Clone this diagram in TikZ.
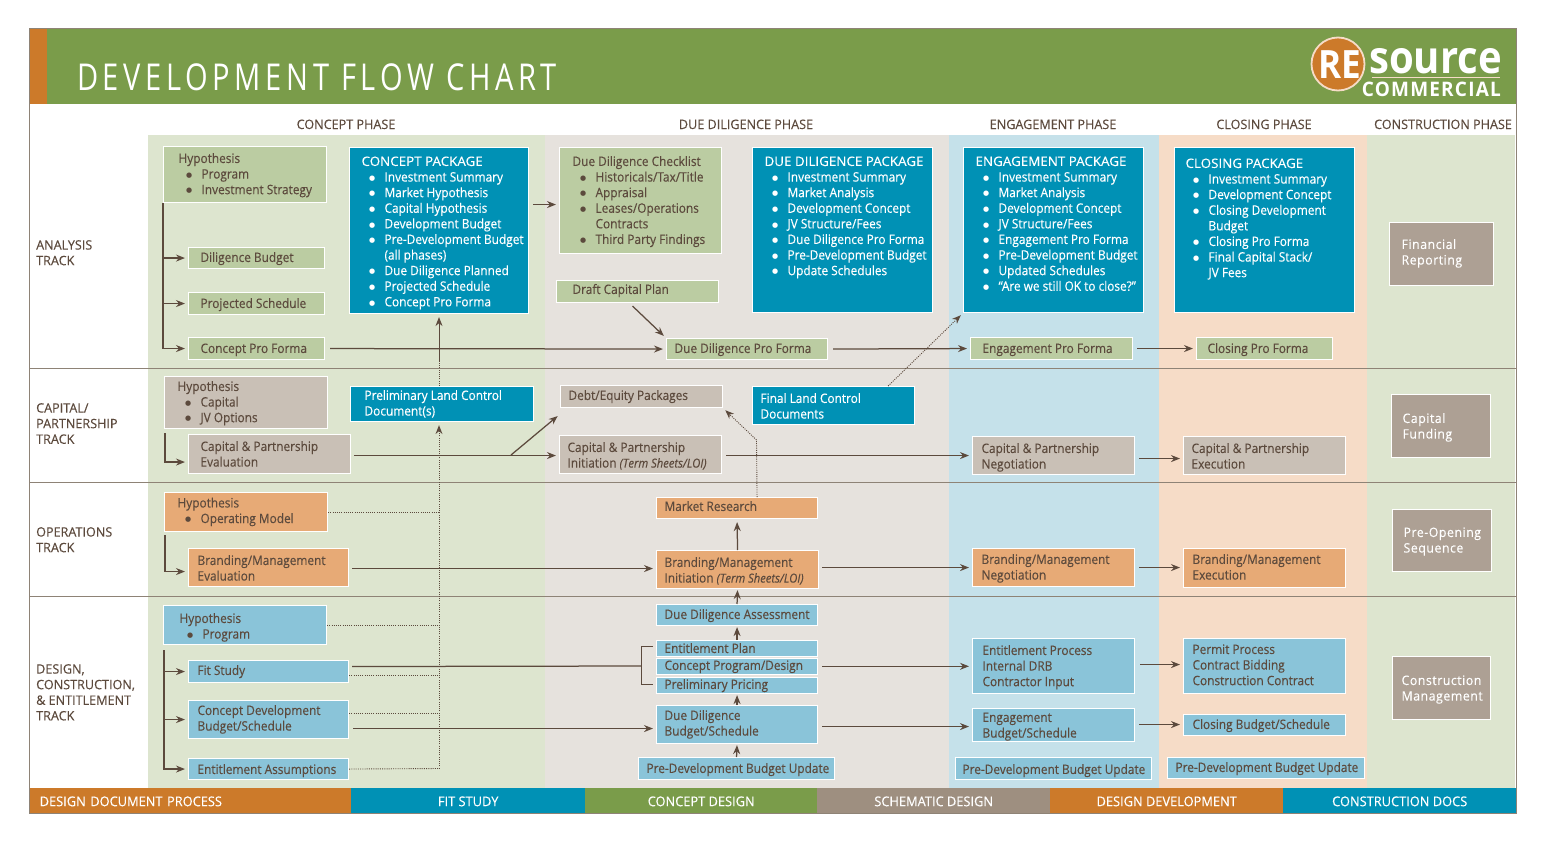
\documentclass[tikz,border=0pt]{standalone}
\usepackage{fontspec}
\usetikzlibrary{arrows.meta}
\setmainfont{Open Sans}[FakeStretch=0.912,FakeBold=0.25]
\newfontfamily\wideface{Open Sans}[FakeStretch=0.95,LetterSpace=4,FakeBold=0.2]
\newfontfamily\capface{Open Sans}[FakeStretch=0.97,FakeBold=0.25]
\newfontfamily\pkgface{Open Sans}[FakeStretch=1.03,FakeBold=0.2]
\newfontfamily\footface{Open Sans}[FakeStretch=0.95,FakeBold=0.25]
\newfontfamily\titleface{Open Sans}[FakeStretch=0.785,LetterSpace=12.5]
\newfontfamily\logoface{Open Sans}[FakeStretch=0.9]
\newfontfamily\sourceface{Open Sans}[FakeStretch=0.89]
\newfontfamily\logospaced{Open Sans}[FakeStretch=0.95,LetterSpace=6]
\newfontfamily\dotface{DejaVu Sans}
\definecolor{ink}{HTML}{5C4A3D}
\definecolor{frameC}{HTML}{8E8376}
\definecolor{barG}{HTML}{7A9C4A}
\definecolor{barO}{HTML}{CC7A2A}
\definecolor{barB}{HTML}{0091B5}
\definecolor{barN}{HTML}{9E8F80}
\definecolor{bgG}{HTML}{DDE5CF}
\definecolor{bgN}{HTML}{E6E2DD}
\definecolor{bgB}{HTML}{C5E1EA}
\definecolor{bgO}{HTML}{F6DCC7}
\definecolor{boxG}{HTML}{BBCCA2}
\definecolor{boxN}{HTML}{C9C0B6}
\definecolor{boxO}{HTML}{E7AA76}
\definecolor{boxB}{HTML}{8AC4D9}
\definecolor{boxD}{HTML}{ADA094}
\tikzset{
  plain/.style={text=ink},
  boxed/.style={draw=white,line width=1.1pt,text=ink},
  gbox/.style={boxed,fill=boxG},
  nbox/.style={boxed,fill=boxN},
  obox/.style={boxed,fill=boxO},
  bbox/.style={boxed,fill=boxB},
  pkg/.style={boxed,fill=barB,text=white},
  dbox/.style={boxed,fill=boxD,text=white,font=\wideface},
  arr/.style={draw=ink,line width=1.25pt,-{Stealth[length=9pt,width=7pt]},shorten >=3pt},
  upa/.style={arr,shorten >=1pt},
  lnk/.style={draw=ink,line width=1.25pt},
  dotl/.style={draw=ink,line width=0.9pt,dash pattern=on 1pt off 1.2pt},
  dota/.style={dotl,-{Stealth[length=9pt,width=7pt,line width=0pt]},shorten >=3pt},
  phase/.style={anchor=base,text=ink,font=\capface\fontsize{13}{15.6}\selectfont},
  foot/.style={anchor=north west,inner sep=0pt,text=white,font=\footface\fontsize{13.5}{15}\selectfont,text height=11pt,text depth=0pt,minimum height=25pt},
  rule/.style={draw=frameC,line width=0.9pt}
}
\newcommand\bx[9]{%
  \pgfmathsetmacro\bxw{#4-#2}\pgfmathsetmacro\bxh{#5-#3}%
  \pgfmathsetmacro\bxl{#7-#2}\pgfmathsetmacro\bxt{#8-#3-12.6}%
  \node[#6,anchor=north west,inner sep=0pt,minimum width=\bxw pt,minimum height=\bxh pt] (#1) at (#2,#3)
   {\begin{minipage}[c][\bxh pt][t]{\bxw pt}\fontsize{13}{15.6}\selectfont
    \leftskip=\bxl pt\rightskip=-300pt\parindent=0pt\vspace*{\bxt pt}\rule{0pt}{12pt}#9\end{minipage}};}
\newcommand\bl[1]{\makebox[23pt][l]{\hspace{7.5pt}\raisebox{1.3pt}{\dotface\fontsize{7}{7}\selectfont ●}}#1}
\newcommand\ct[1]{\hspace*{23pt}#1}
\newcommand\hd[1]{{\pkgface #1}}
\newcommand\cp[1]{{\capface #1}}
\newcommand\tsh{{\itshape\fontsize{12.3}{15}\selectfont(Term Sheets/LOI)}}
\begin{document}
\begin{tikzpicture}[x=1pt,y=-1pt]
\useasboundingbox (0,0) rectangle (1545,843);
% phase panels
\fill[bgG] (148,135) rectangle (545,788);
\fill[bgN] (545,135) rectangle (949,788);
\fill[bgB] (949,135) rectangle (1159,788);
\fill[bgO] (1159,135) rectangle (1367,788);
\fill[bgG] (1367,135) rectangle (1515,788);
% header
\fill[barG] (47,29) rectangle (1516,104);
\fill[barO] (30,29) rectangle (47,104);
% track rules and frame
\draw[rule] (30,368) -- (1516,368);
\draw[rule] (30,482) -- (1516,482);
\draw[rule] (30,596.5) -- (1516,596.5);
\draw[rule] (29.5,28.5) rectangle (1516,813);
% title
\node[anchor=base west,inner sep=0pt,text=white,font=\titleface\fontsize{37}{40}\selectfont] (title) at (77,91) {DEVELOPMENT FLOW CHART};
% logo
\node[circle,fill=barO,draw=bgO,line width=1.8pt,minimum size=53pt,inner sep=0pt] (logoC) at (1338,64) {};
\node[anchor=base,inner sep=0pt,text=white,font=\logoface\bfseries\fontsize{39}{40}\selectfont] (logoR) at (1339.5,78) {RE};
\node[anchor=base west,inner sep=0pt,text=white,font=\sourceface\bfseries\fontsize{45}{45}\selectfont] (logoS) at (1369,74) {source};
\draw[draw=bgO,line width=0.7pt] (1372,77.5) -- (1500,77.5);
\node[anchor=base east,inner sep=0pt,text=white,font=\logospaced\bfseries\fontsize{20}{20}\selectfont] (logoT) at (1501,96) {COMMERCIAL};
% phase heads
\node[phase] (ph1) at (346,129) {CONCEPT PHASE};
\node[phase] (ph2) at (746,129) {DUE DILIGENCE PHASE};
\node[phase] (ph3) at (1053,129) {ENGAGEMENT PHASE};
\node[phase] (ph4) at (1264,129) {CLOSING PHASE};
\node[phase] (ph5) at (1443,129) {CONSTRUCTION PHASE};
% track labels
\bx{trA}{30}{236}{147}{270}{plain}{36}{250}{\cp{ANALYSIS}\\\cp{TRACK}}
\bx{trB}{30}{400}{147}{450}{plain}{36}{413}{\cp{CAPITAL/}\\\cp{PARTNERSHIP}\\\cp{TRACK}}
\bx{trC}{30}{523}{147}{558}{plain}{36}{537}{\cp{OPERATIONS}\\\cp{TRACK}}
\bx{trD}{30}{660}{147}{726}{plain}{36}{674}{\cp{DESIGN,}\\\cp{CONSTRUCTION,}\\\cp{\& ENTITLEMENT}\\\cp{TRACK}}
% analysis
\bx{hypA}{163}{146}{326}{202}{gbox}{178}{163}{Hypothesis\\\bl{Program}\\\bl{Investment Strategy}}
\bx{dbud}{188}{247}{324}{268}{gbox}{200}{262}{Diligence Budget}
\bx{psch}{188}{292}{324}{314}{gbox}{200}{308}{Projected Schedule}
\bx{cpf}{188}{337}{324}{359}{gbox}{200}{353}{Concept Pro Forma}
\bx{cpk}{349}{147}{528}{313}{pkg}{361}{166}{\hd{CONCEPT PACKAGE}\\\bl{Investment Summary}\\\bl{Market Hypothesis}\\\bl{Capital Hypothesis}\\\bl{Development Budget}\\\bl{Pre-Development Budget}\\\ct{(all phases)}\\\bl{Due Diligence Planned}\\\bl{Projected Schedule}\\\bl{Concept Pro Forma}}
\bx{chk}{559}{147}{721}{253}{gbox}{572}{166}{Due Diligence Checklist\\\bl{Historicals/Tax/Title}\\\bl{Appraisal}\\\bl{Leases/Operations}\\\ct{Contracts}\\\bl{Third Party Findings}}
\bx{dpk}{752}{147}{932}{312}{pkg}{764}{166}{\hd{DUE DILIGENCE PACKAGE}\\\bl{Investment Summary}\\\bl{Market Analysis}\\\bl{Development Concept}\\\bl{JV Structure/Fees}\\\bl{Due Diligence Pro Forma}\\\bl{Pre-Development Budget}\\\bl{Update Schedules}}
\bx{epk}{963}{147}{1143}{312}{pkg}{975}{166}{\hd{ENGAGEMENT PACKAGE}\\\bl{Investment Summary}\\\bl{Market Analysis}\\\bl{Development Concept}\\\bl{JV Structure/Fees}\\\bl{Engagement Pro Forma}\\\bl{Pre-Development Budget}\\\bl{Updated Schedules}\\\bl{“Are we still OK to close?”}}
\bx{clk}{1174}{147}{1354}{312}{pkg}{1185}{168}{\hd{CLOSING PACKAGE}\\\bl{Investment Summary}\\\bl{Development Concept}\\\bl{Closing Development}\\\ct{Budget}\\\bl{Closing Pro Forma}\\\bl{Final Capital Stack/}\\\ct{JV Fees}}
\bx{dcp}{556}{280}{718}{302}{gbox}{572}{294}{Draft Capital Plan}
\bx{dpf}{666}{338}{827}{359}{gbox}{674}{353}{Due Diligence Pro Forma}
\bx{epf}{970}{337}{1132}{359}{gbox}{982}{353}{Engagement Pro Forma}
\bx{lpf}{1196}{337}{1332}{359}{gbox}{1207}{353}{Closing Pro Forma}
\bx{finr}{1389}{222}{1493}{285}{dbox}{1401}{249}{Financial\\Reporting}
% capital
\bx{hypC}{164}{376}{327}{428}{nbox}{177}{391}{Hypothesis\\\bl{Capital}\\\bl{JV Options}}
\bx{cpe}{188}{434}{350}{473}{nbox}{200}{451}{Capital \& Partnership\\Evaluation}
\bx{plc}{350}{386}{533}{421}{pkg}{364}{400}{Preliminary Land Control\\Document(s)}
\bx{deb}{560}{385}{722}{407}{nbox}{568}{400}{Debt/Equity Packages}
\bx{cpi}{559}{435}{721}{473}{nbox}{567}{452}{Capital \& Partnership\\Initiation  \tsh}
\bx{flc}{752}{386}{914}{424}{pkg}{760}{403}{Final Land Control\\Documents}
\bx{cpn}{972}{436}{1134}{474}{nbox}{981}{453}{Capital \& Partnership\\Negotiation}
\bx{cpx}{1183}{436}{1345}{474}{nbox}{1191}{453}{Capital \& Partnership\\Execution}
\bx{capf}{1391}{394}{1490}{457}{dbox}{1402}{423}{Capital\\Funding}
% operations
\bx{hypO}{164}{492}{327}{531}{obox}{177}{507.5}{Hypothesis\\\bl{Operating Model}}
\bx{bme}{188}{548}{348}{586}{obox}{197}{565}{Branding/Management\\Evaluation}
\bx{mkt}{656}{497}{817}{518}{obox}{664}{511}{Market Research}
\bx{bmi}{656}{550}{818}{588}{obox}{664}{567}{Branding/Management\\Initiation  \tsh}
\bx{bmn}{972}{548}{1134}{586}{obox}{981}{564}{Branding/Management\\Negotiation}
\bx{bmx}{1183}{548}{1345}{587}{obox}{1192}{564}{Branding/Management\\Execution}
\bx{pro}{1392}{509}{1491}{571}{dbox}{1403}{537}{Pre-Opening\\Sequence}
% design
\bx{hypD}{163}{605}{326}{644}{bbox}{179}{623}{Hypothesis\\\bl{Program}}
\bx{fit}{188}{660}{348}{682}{bbox}{197}{675}{Fit Study}
\bx{cdb}{188}{700}{348}{738}{bbox}{197}{715}{Concept Development\\Budget/Schedule}
\bx{ena}{188}{758}{348}{779}{bbox}{197}{774}{Entitlement Assumptions}
\bx{dda}{656}{604}{817}{625}{bbox}{664}{619}{Due Diligence Assessment}
\bx{enp}{656}{640}{817}{656}{bbox}{664}{653}{Entitlement Plan}
\bx{cpd}{656}{658}{817}{673.5}{bbox}{664}{670}{Concept Program/Design}
\bx{ppr}{656}{677}{817}{693}{bbox}{664}{689}{Preliminary Pricing}
\bx{ddb}{656}{705}{817}{743}{bbox}{664}{720}{Due Diligence\\Budget/Schedule}
\bx{pdA}{638}{757}{834}{779}{bbox}{646}{773}{Pre-Development Budget Update}
\bx{eip}{972}{638}{1134}{693}{bbox}{982}{655}{Entitlement Process\\Internal DRB\\Contractor Input}
\bx{ebs}{972}{708}{1134}{741}{bbox}{982}{722}{Engagement\\Budget/Schedule}
\bx{pdB}{955}{757}{1151}{779}{bbox}{962}{774}{Pre-Development Budget Update}
\bx{prm}{1183}{638}{1345}{693}{bbox}{1192}{654}{Permit Process\\Contract Bidding\\Construction Contract}
\bx{cbs}{1183}{714}{1345}{735}{bbox}{1192}{729}{Closing Budget/Schedule}
\bx{pdC}{1167}{757}{1364}{778}{bbox}{1175}{772}{Pre-Development Budget Update}
\bx{cmg}{1392}{656}{1490}{719}{dbox}{1401}{685}{Construction\\Management}
% footer
\node[foot,fill=barO,minimum width=321pt,align=left,text width=312pt] (f1) at (30,788) {\hspace*{5pt}DESIGN DOCUMENT PROCESS};
\node[foot,fill=barB,minimum width=234pt,align=center] (f2) at (351,788) {FIT STUDY};
\node[foot,fill=barG,minimum width=232pt,align=center] (f3) at (585,788) {CONCEPT DESIGN};
\node[foot,fill=barN,minimum width=233pt,align=center] (f4) at (817,788) {SCHEMATIC DESIGN};
\node[foot,fill=barO,minimum width=233pt,align=center] (f5) at (1050,788) {DESIGN DEVELOPMENT};
\node[foot,fill=barB,minimum width=233pt,align=center] (f6) at (1283,788) {CONSTRUCTION DOCS};
\draw[rule] (29.5,813) -- (1516,813);
% --- connectors: analysis
\draw[arr] (hypA.south west) |- (cpf.west);
\draw[arr] (hypA.south west |- dbud.west) -- (dbud.west);
\draw[arr] (hypA.south west |- psch.west) -- (psch.west);
\draw[arr,shorten <=5pt] (cpf.east) -- (dpf.west);
\draw[arr,shorten <=4pt] ([yshift=-4pt]chk.west -| cpk.east) -- ([yshift=-4pt]chk.west);
\draw[arr] ([xshift=-5pt,yshift=-3pt]dcp.south) -- (dpf.north west);
\draw[arr,shorten <=5pt] (dpf.east) -- (epf.west);
\draw[arr,shorten <=4pt] (epf.east) -- (lpf.west);
\draw[dota] ([xshift=-27pt]flc.north east) -- (epk.south west);
% capital
\draw[arr] ([xshift=1pt,yshift=-4pt]hypC.south west) |- ([yshift=-8pt]cpe.west);
\draw[arr,shorten <=3pt] ([yshift=-1.5pt]cpe.east) -- ([yshift=-1pt]cpi.west);
\coordinate (fork) at (511,455);
\draw[arr] (fork) -- ([yshift=-6pt]deb.south west);
\draw[arr,shorten <=4pt] ([yshift=-1pt]cpi.east) -- ([yshift=-1pt]cpn.west |- cpi.east);
\draw[arr,shorten <=4pt] ([yshift=-3pt]cpn.east) -- ([yshift=-3pt]cpx.west);
\coordinate (elbow) at (756.5,440);
\draw[dotl] ([xshift=20pt]mkt.north) -- (elbow);
\draw[dota] (elbow) -- (deb.south east);
% operations
\draw[arr] ([xshift=1pt,yshift=-3pt]hypO.south west) |- ([yshift=-4pt]bme.west);
\draw[arr,shorten <=3pt] ([yshift=-1pt]bme.east) -- ([yshift=-1pt]bmi.west |- bme.east);
\draw[arr,shorten <=3pt] (bmi.east |- bmn.west) -- (bmn.west);
\draw[arr,shorten <=4pt] (bmn.east) -- (bmx.west |- bmn.east);
\draw[arr] (bmi.north) -- (mkt.south);
\draw[upa] (dda.north) -- (bmi.south);
% design
\draw[arr] ([xshift=1pt,yshift=-5pt]hypD.south west) |- (ena.west);
\draw[arr] ([xshift=1pt]hypD.south west |- fit.west) -- (fit.west);
\draw[arr] ([xshift=1pt]hypD.south west |- cdb.west) -- (cdb.west);
\draw[upa] (enp.north) -- (dda.south);
\draw[upa] (ddb.north) -- (ppr.south);
\draw[upa] (pdA.north) -- (ddb.south);
\coordinate (brk) at (641.5,666);
\draw[lnk,shorten <=3pt] ([yshift=5pt]fit.east) -- (brk);
\draw[lnk] ([xshift=-3pt,yshift=2pt]enp.west) -| (brk) |- ([xshift=-3pt,yshift=1pt]ppr.west);
\draw[arr,shorten <=4pt] (cpd.east) -- (cpd.east -| eip.west);
\draw[arr,shorten <=4pt] ([yshift=-9pt]cdb.east) -- ([yshift=-9pt]cdb.east -| ddb.west);
\draw[arr,shorten <=4pt] ([yshift=-2pt]ddb.east) -- ([yshift=-2pt]ddb.east -| ebs.west);
\draw[arr,shorten <=5pt] ([yshift=1.5pt]eip.east) -- ([yshift=1.5pt]prm.west);
\draw[arr,shorten <=4pt] ([yshift=0.5pt]ebs.east) -- ([yshift=0.5pt]ebs.east -| cbs.west);
% dotted feeders into the land-control documents
\coordinate (rail) at (439,768.5);
\draw[dotl] (ena.east) -- (rail);
\draw[dota] (rail) -- (rail |- plc.south);
\draw[dotl] ([yshift=-4pt]fit.east) -- ([yshift=-4pt]fit.east -| rail);
\draw[dotl] ([yshift=-13pt]cdb.north east) -- ([yshift=-13pt]cdb.north east -| rail);
\draw[dotl] (hypD.east) -- (hypD.east -| rail);
\draw[dotl] (hypO.east) -- (hypO.east -| rail);
\coordinate (soft) at (439,362);
\draw[dotl] (rail |- plc.north) -- (soft);
\draw[arr,line width=0.8pt] (soft) -- (rail |- cpk.south);
\end{tikzpicture}
\end{document}
